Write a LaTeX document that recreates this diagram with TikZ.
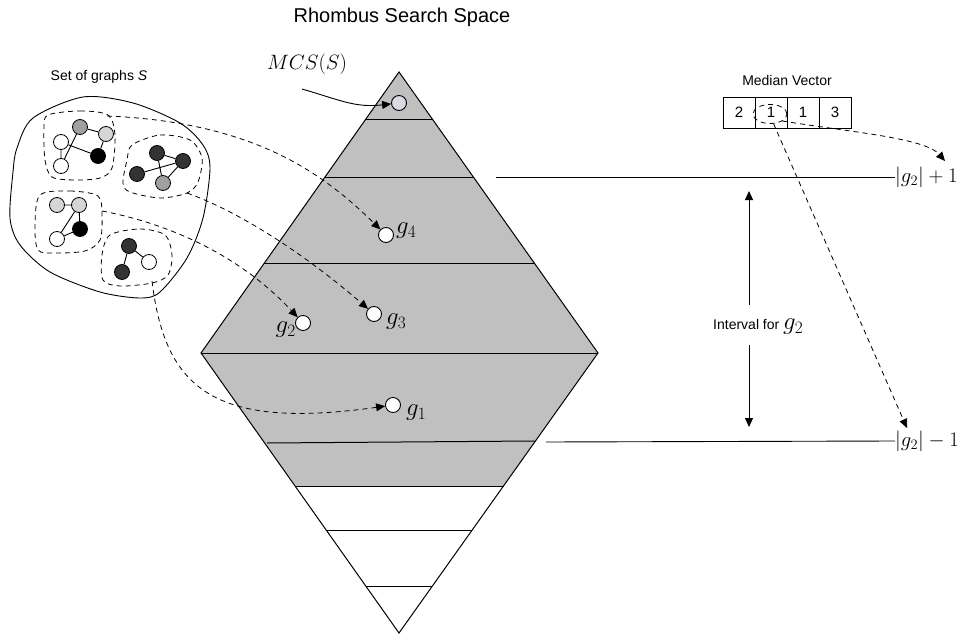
\documentclass[tikz,border=0pt]{standalone}
\usepackage{fontspec}
\newfontfamily\hv{Liberation Sans}
\usetikzlibrary{arrows.meta,shapes.geometric}
\definecolor{band}{RGB}{192,192,192}
\definecolor{mcsfill}{RGB}{218,219,226}
\definecolor{dk}{RGB}{51,51,51}
\definecolor{md}{RGB}{160,160,160}
\definecolor{lt}{RGB}{214,214,214}
\begin{document}
\begin{tikzpicture}[x=1pt,y=-1pt,
  solid line/.style={line width=0.9pt},
  dsh/.style={dash pattern=on 5pt off 4pt, line width=0.8pt},
  tip/.style={-{Triangle[length=9pt,width=8pt]}},
  vtx/.style={circle, draw, line width=0.8pt, minimum size=15pt, inner sep=0pt},
  gnode/.style={circle, draw, fill=white, line width=0.9pt, minimum size=15pt, inner sep=0pt},
  mlab/.style={font=\fontsize{20}{24}\selectfont, inner sep=0pt},
  glab/.style={font=\fontsize{23}{27}\selectfont, inner sep=0pt},
  slab/.style={font=\hv\fontsize{14}{16}\selectfont, inner sep=0pt},
  cellbox/.style={draw, line width=0.8pt, minimum width=32pt, minimum height=31pt, inner sep=0pt, font=\hv\fontsize{15}{17}\selectfont},
]
\useasboundingbox (0,0) rectangle (967,634);
\fill[white] (0,0) rectangle (967,634);

% title
\node[font=\hv\fontsize{20}{24}\selectfont] (title) at (402,17) {Rhombus Search Space};

% rhombus
\fill[band] (399,72) -- (598,353) -- (503.5,486) -- (295.5,486) -- (201,353) -- cycle;
\draw[line width=1pt] (399,72) -- (598,353) -- (399,633) -- (201,353) -- cycle;
\foreach \y/\xa/\xb in {119/366/432, 177/325/473, 263/264/534, 353/201/598, 486/295.5/503.5, 530/326/472, 586/366/432}
  \draw[line width=1pt] (\xa,\y) -- (\xb,\y);
\draw[line width=1pt] (267,443) -- (535,441);

% circles in the rhombus
\node[gnode, fill=mcsfill] (mcs) at (399,103) {};
\node[gnode] (g4) at (386,235) {};
\node[gnode] (g3) at (374,314) {};
\node[gnode] (g2) at (303,323) {};
\node[gnode] (g1) at (393,405) {};
\node[glab, anchor=west] (lg4) at (396,231) {$g_4$};
\node[glab, anchor=west] (lg3) at (386,322) {$g_3$};
\node[glab, anchor=east] (lg2) at (296,330) {$g_2$};
\node[glab, anchor=west] (lg1) at (406,413) {$g_1$};

% MCS label
\node[mlab] (mcslab) at (307,64) {$MCS(S)$};
\coordinate (mcsstart) at (302,89);
\draw[solid line, tip] (mcsstart) .. controls (340,100) and (355,108) .. (mcs);

% set of graphs
\node[slab] (setlab) at (99,77) {Set of graphs \textit{S}};
\draw[solid line] plot[smooth cycle] coordinates {(17,148) (33,118) (83,97) (133,103) (180,123) (203,145) (210,168) (203,218) (187,258) (160,292) (140,298) (100,292) (50,272) (20,245) (10,218) (13,172)};

% dashed groups
\draw[dsh] plot[smooth cycle] coordinates {(48,115) (80,111) (108,115) (115,135) (112,168) (100,178) (75,180) (52,177) (45,160) (44,128)};
\draw[dsh] plot[smooth cycle] coordinates {(132,145) (160,135) (190,140) (202,158) (198,182) (187,193) (160,198) (130,192) (123,183) (127,160)};
\draw[dsh] plot[smooth cycle] coordinates {(40,195) (70,191) (98,196) (102,215) (100,240) (85,251) (55,253) (38,250) (35,225)};
\draw[dsh] plot[smooth cycle] coordinates {(110,235) (140,229) (165,235) (172,255) (168,275) (152,283) (120,286) (103,280) (102,255)};

% graph A
\node[vtx, fill=md] (a1) at (80,127) {};
\node[vtx, fill=lt] (a2) at (106,134) {};
\node[vtx, fill=white] (a3) at (61,142) {};
\node[vtx, fill=black] (a4) at (98,156) {};
\node[vtx, fill=white] (a5) at (61,166) {};
\draw[solid line] (a1) -- (a2) (a1) -- (a5) (a3) -- (a5) (a3) -- (a4) (a2) -- (a4);
% graph B
\node[vtx, fill=dk] (b1) at (157,153) {};
\node[vtx, fill=dk] (b2) at (183,161) {};
\node[vtx, fill=dk] (b3) at (137,174) {};
\node[vtx, fill=md] (b4) at (163,183) {};
\draw[solid line] (b1) -- (b2) (b1) -- (b4) (b3) -- (b2) (b4) -- (b2);
% graph C
\node[vtx, fill=lt] (c1) at (57,205) {};
\node[vtx, fill=lt] (c2) at (79,205) {};
\node[vtx, fill=black] (c3) at (80,229) {};
\node[vtx, fill=white] (c4) at (57,239) {};
\draw[solid line] (c1) -- (c2) (c2) -- (c3) (c4) -- (c2) (c4) -- (c3);
% graph D
\node[vtx, fill=dk] (d1) at (129,246) {};
\node[vtx, fill=white] (d2) at (149,262) {};
\node[vtx, fill=dk] (d3) at (122,272) {};
\draw[solid line] (d1) -- (d2) (d1) -- (d3);

% connectors from groups
\coordinate (ca) at (107,116);
\coordinate (cb) at (187,193);
\coordinate (cc) at (102,211);
\coordinate (cd) at (152,281);
\draw[dsh, tip] (ca) .. controls (250,122) and (320,170) .. (g4);
\draw[dsh, tip] (cb) .. controls (235,210) and (300,250) .. (g3);
\draw[dsh, tip] (cc) .. controls (160,222) and (235,250) .. (g2);
\draw[dsh, tip] (cd) .. controls (165,390) and (215,430) .. (g1);

% median vector
\node[slab] (mvlab) at (787,80) {Median Vector};
\node[cellbox] (m1) at (739,112.5) {2};
\node[cellbox] (m2) at (771,112.5) {1};
\node[cellbox] (m3) at (803,112.5) {1};
\node[cellbox] (m4) at (835,112.5) {3};
\node[draw, dsh, ellipse, minimum width=34pt, minimum height=19pt, inner sep=0pt] (sel) at (770,114) {};

% interval lines
\coordinate (up1) at (496,177);
\coordinate (lo1) at (546,442);
\node[mlab, anchor=west] (lplus) at (895,177) {$|g_2|+1$};
\node[mlab, anchor=west] (lminus) at (895,441) {$|g_2|-1$};
\draw[solid line] (up1) -- (lplus.west);
\draw[solid line] (lo1) -- (lminus.west);

% interval arrow
\node[anchor=west, inner sep=0pt] (ival) at (713,327) {\hv\fontsize{14}{16}\selectfont Interval for \fontsize{24}{28}\selectfont$g_2$};
\coordinate (itop) at (749,191);
\coordinate (ibot) at (749,427);
\coordinate (iup) at (749,305);
\coordinate (idn) at (749,345);
\draw[solid line, tip] (iup) -- (itop);
\draw[solid line, tip] (idn) -- (ibot);

% median vector connectors
\coordinate (plusend) at (945,161);
\coordinate (minusend) at (907,428);
\draw[dsh, tip] (sel.south east) .. controls (850,132) and (925,138) .. (plusend);
\draw[dsh, tip] (sel.-70) -- (minusend);
\end{tikzpicture}
\end{document}
